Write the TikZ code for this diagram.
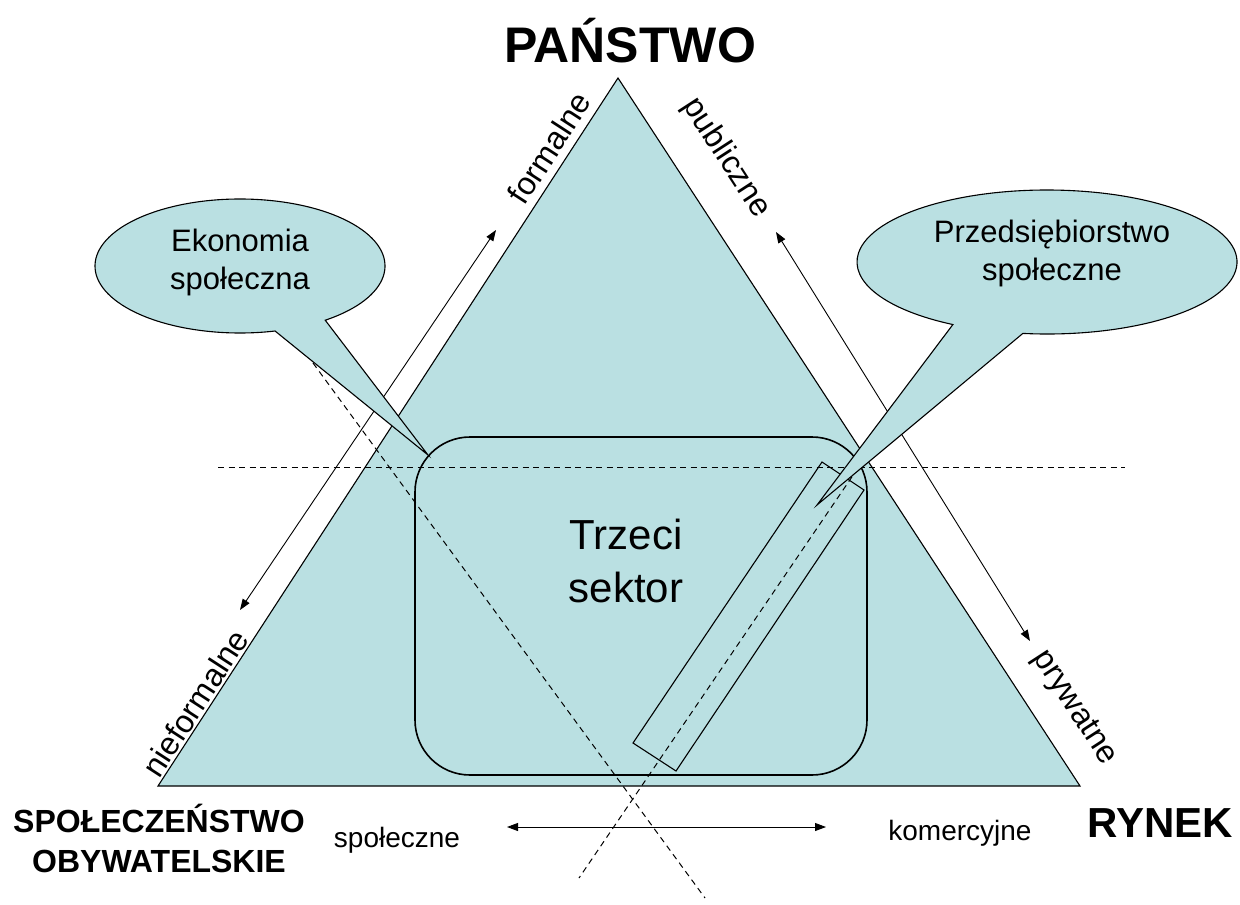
\documentclass[tikz,border=0pt]{standalone}
\usepackage{fontspec}
\setmainfont{Liberation Sans}
\usetikzlibrary{arrows.meta}
\definecolor{fillc}{RGB}{186,224,226}
\begin{document}
\begin{tikzpicture}[x=1pt,y=-1pt,
  edge/.style={line width=1.1pt, line join=miter},
  dashln/.style={line width=1pt, dash pattern=on 6pt off 4.5pt},
  twoway/.style={line width=0.9pt, {Triangle[length=11pt,width=8pt]}-{Triangle[length=11pt,width=8pt]}},
  side/.style={font=\fontsize{32}{38}\selectfont, inner sep=0pt},
  corner/.style={font=\bfseries\fontsize{32}{40}\selectfont, align=center, inner sep=0pt},
  small/.style={font=\fontsize{28}{32}\selectfont, inner sep=0pt, anchor=base},
  bubble/.style={font=\fontsize{31}{38}\selectfont, align=center, inner sep=0pt}
]
\useasboundingbox (0,0) rectangle (1240,905);

% triangle
\coordinate (apex) at (618,78);
\coordinate (bl) at (158,786);
\coordinate (br) at (1080,786);
\draw[edge, fill=fillc] (apex) -- (bl) -- (br) -- cycle;

% third sector box
\node[draw, fill=fillc, line width=1.6pt, rounded corners=55pt,
      minimum width=452pt, minimum height=338pt, inner sep=0pt] (sector) at (641,606) {};

% dashed guide lines
\coordinate (h1) at (218,467);
\coordinate (h2) at (1125,467);
\draw[dashln] (h1) -- (h2);
\coordinate (d1s) at (313,363);
\coordinate (d1e) at (705,898);
\draw[dashln] (d1s) -- (d1e);
\coordinate (d2s) at (858,468);
\coordinate (d2e) at (579,878);
\draw[dashln] (d2s) -- (d2e);

% slanted strip
\coordinate (sa) at (822,462);
\coordinate (sb) at (864,490);
\coordinate (sc) at (676,771);
\coordinate (sd) at (633,743);
\draw[edge] (sa) -- (sb) -- (sc) -- (sd) -- cycle;

% arrows
\coordinate (la1) at (496,230);
\coordinate (la2) at (240,610);
\draw[twoway] (la1) -- (la2);
\coordinate (ra1) at (776,232);
\coordinate (ra2) at (1030,641);
\draw[twoway] (ra1) -- (ra2);
\coordinate (ba1) at (507,827);
\coordinate (ba2) at (826,827);
\draw[twoway] (ba1) -- (ba2);

% callout 1
\coordinate (c1) at (240,266);
\coordinate (t1) at (428,455);
\draw[edge, fill=fillc] ([shift={(54:145 and 67)}]c1)
   arc[start angle=54, end angle=-284, x radius=145, y radius=67] -- (t1) -- cycle;
\node[bubble] (ek) at (240,262) {Ekonomia\\społeczna};

% callout 2
\coordinate (c2) at (1047,262);
\coordinate (t2) at (817,505);
\draw[edge, fill=fillc] ([shift={(97.3:190 and 72)}]c2)
   arc[start angle=97.3, end angle=-240.3, x radius=190, y radius=72] -- (t2) -- cycle;
\node[bubble] (ps) at (1052,253) {Przedsiębiorstwo\\społeczne};

% texts
\node[font=\fontsize{42}{53}\selectfont, align=center, inner sep=0pt] (ts) at (626,561) {Trzeci\\sektor};
\node[font=\bfseries\fontsize{50}{56}\selectfont, inner sep=0pt, anchor=base] (pan) at (630,62) {PAŃSTWO};
\node[corner] (spo) at (159,838) {SPOŁECZEŃSTWO\\OBYWATELSKIE};
\node[font=\bfseries\fontsize{42}{48}\selectfont, inner sep=0pt, anchor=base] (ryn) at (1160,837) {RYNEK};
\node[small] (spl) at (397,847) {społeczne};
\node[small] (kom) at (960,840) {komercyjne};

\node[side, rotate=57] (fo) at (549,148) {formalne};
\node[side, rotate=-57] (pu) at (726,158) {publiczne};
\node[side, rotate=57] (nf) at (195,703) {nieformalne};
\node[side, rotate=-57] (pr) at (1074,708) {prywatne};
\end{tikzpicture}
\end{document}
